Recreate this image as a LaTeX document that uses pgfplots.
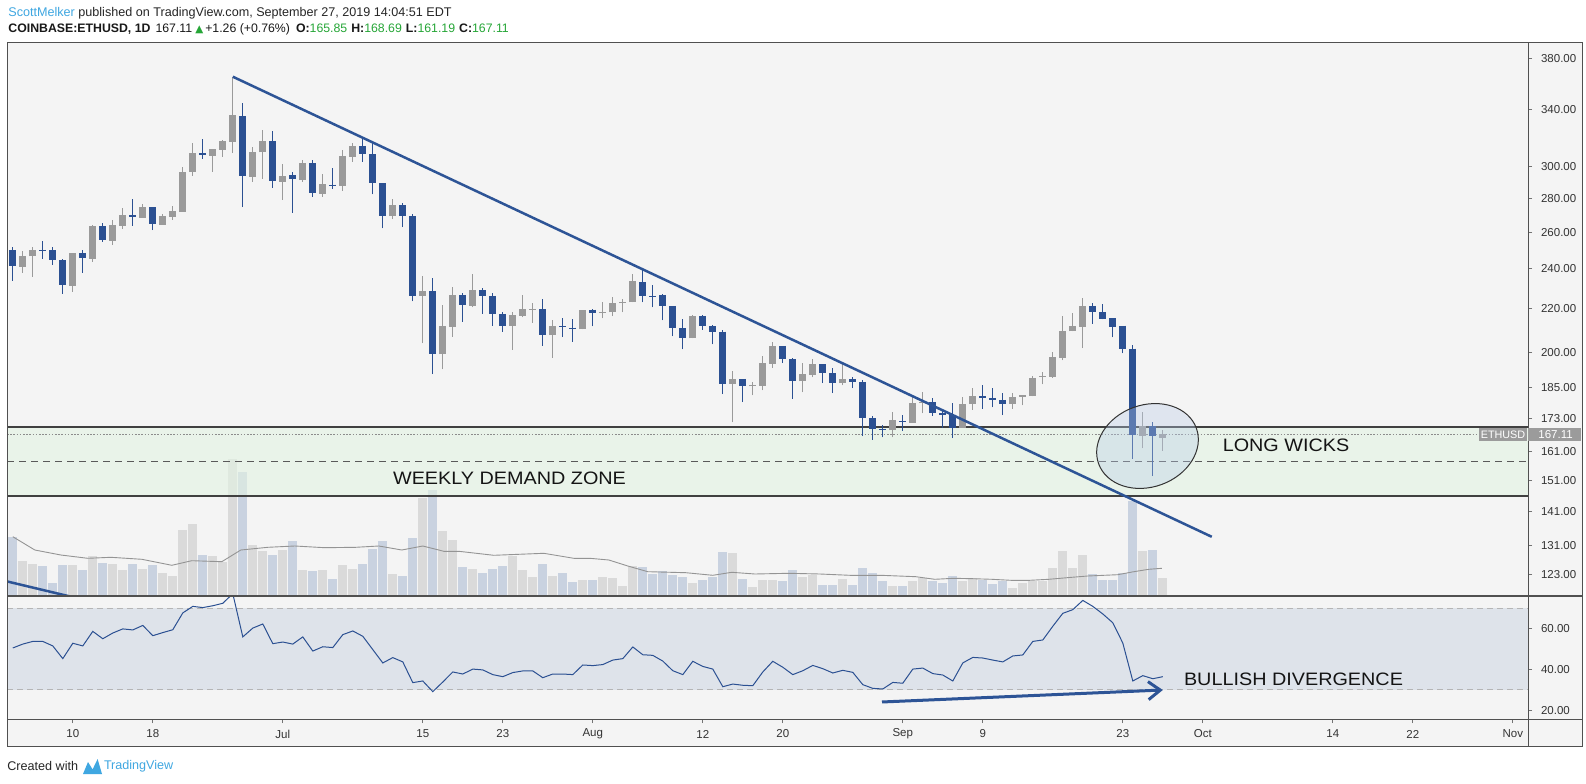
\documentclass[border=0pt]{standalone}
\usepackage{pgfplots}
\pgfplotsset{compat=1.18}
\usepackage{fontspec}
\setmainfont{Liberation Sans}
\newfontfamily\annfont[FakeStretch=1.1]{Liberation Sans}
\newfontfamily\symfont{DejaVu Sans}
\usetikzlibrary{arrows.meta}
\definecolor{bg}{HTML}{F4F4F4}
\definecolor{bear}{HTML}{2B5092}
\definecolor{bull}{HTML}{9A9A9A}
\definecolor{volbear}{HTML}{C9D2E0}
\definecolor{volbull}{HTML}{DADADA}
\definecolor{zone}{HTML}{E3F3E3}
\definecolor{rsiband}{HTML}{DEE3EA}
\definecolor{rsidash}{HTML}{B5B5B5}
\definecolor{trend}{HTML}{2D5496}
\definecolor{frame}{HTML}{505050}
\definecolor{tvgreen}{HTML}{26A637}
\definecolor{tvblue}{HTML}{3FA7E1}
\definecolor{lblgray}{HTML}{9B9B9B}
\definecolor{ellfill}{HTML}{B8CBE8}
\pgfplotsset{
  panel/.style={scale only axis, width=760.5pt, xmin=2.42, xmax=154.52,
    anchor=south west, axis line style={draw=none}, tick align=outside,
    major tick length=2pt, tick style={draw=black!55, line width=0.5pt},
    ticklabel style={font=\fontsize{5.75}{6.5}\selectfont, text=black!80}},
}
\begin{document}
\begin{tikzpicture}
\path[use as bounding box] (0,0) rectangle (793pt,391.5pt);
\fill[white] (0,0) rectangle (793pt,391.5pt);
\fill[bg] (3.5pt,18.5pt) rectangle (791pt,370.25pt);

% ---------- volume ----------
\begin{axis}[panel, at={(3.5pt,93.5pt)}, height=276.75pt, ymin=0, ymax=553.5, hide axis]
\addplot[ycomb, draw=volbull, line width=4.4pt] coordinates {
(4,35.3)(5,32.3)(9,31)(11,40)(13,32)(14,26)(16,27)(18,23.3)(19,20.3)(20,66)(21,72)(23,40)(24,34.3)(25,137)(27,51)(28,45.3)(30,46.3)(32,26)(34,26)(36,31)(37,27)(41,22)(44,98.3)(46,65.3)(47,56.3)(49,27)(53,40)(54,26)(55,19.3)(57,20.3)(60,16)(62,19)(63,18)(64,10)(65,30)(71,13)(75,43)(77,9)(78,16)(79,16)(82,19)(83,21)(86,17)(91,10)(93,15)(94,18)(98,15)(99,18)(103,8)(104,13)(105,15)(106,15)(107,28)(108,45)(109,28)(110,41)(116,45)(118,18)};
\addplot[ycomb, draw=volbear, line width=4.4pt] coordinates {
(3,59.3)(6,30)(7,13.3)(8,31)(10,26)(12,33)(15,32)(17,31)(22,41)(26,124)(29,41)(31,55)(33,25)(35,17)(38,32)(39,47.3)(40,55)(42,20)(43,58)(45,106)(48,29.3)(50,23.3)(51,27)(52,30)(56,32)(58,23.3)(59,14.3)(61,16)(66,29)(67,22)(68,25)(69,21)(70,19)(72,16)(73,19)(74,44)(76,17)(80,15)(81,26)(84,11)(85,11)(87,11)(88,28)(89,23)(90,15)(92,10)(95,15)(96,13)(97,20)(100,16)(101,12)(102,15)(111,22)(112,16)(113,16)(114,23)(115,95)(117,46)};
\addplot[draw=black!42, line width=0.45pt] coordinates {
(3,59.3)(5.2,46)(7.8,41)(10.5,37.7)(12.8,38.7)(15.9,36.7)(18.9,30.7)(20.9,35.3)(23.9,34.3)(25.8,46)(28.5,48.7)(31.2,50)(34.2,48.3)(37.3,48.7)(39.6,50)(41.9,46)(44,50)(46.1,44.7)(47.6,44.7)(51.1,40.7)(56.1,42.7)(59.1,37.7)(60.7,37.7)(62.6,36)(64.5,30)(66.5,24.3)(70.3,23.3)(73,20.7)(74.9,23.7)(77.2,22)(80.6,22.7)(83.7,22)(86.7,20.7)(89.8,20.7)(93.3,19.3)(95.2,16.7)(97.1,17.7)(99,17.3)(100.9,16.7)(102.8,15.7)(104.7,15.7)(106.6,16.7)(108.9,18.7)(110.5,20)(113.5,21.3)(115.1,24.3)(116.6,26.7)(117.9,27.7)};
\end{axis}

% ---------- price ----------
\begin{axis}[panel, at={(3.5pt,93.5pt)}, height=276.75pt, ymode=log, ymin=117.3, ymax=393.7,
  xtick=\empty, ytick pos=right, yticklabel pos=right,
  ytick={123,131,141,151,161,173,185,200,220,240,260,280,300,340,380},
  yticklabels={123.00,131.00,141.00,151.00,161.00,173.00,185.00,200.00,220.00,240.00,260.00,280.00,300.00,340.00,380.00},
  yticklabel style={anchor=west, xshift=1pt}, unbounded coords=jump]
\fill[zone, fill opacity=0.6] (axis cs:2.42,146.0) rectangle (axis cs:154.52,169.8);
\draw[black!75, line width=0.7pt] (axis cs:2.42,169.8) -- (axis cs:154.52,169.8);
\draw[black!75, line width=0.7pt] (axis cs:2.42,146.0) -- (axis cs:154.52,146.0);
\draw[black!65, line width=0.7pt, dash pattern=on 3.5pt off 2.5pt] (axis cs:2.42,157.4) -- (axis cs:154.52,157.4);
\draw[black!45, line width=0.35pt, dash pattern=on 0.8pt off 0.8pt] (axis cs:2.42,167.11) -- (axis cs:149.6,167.11);
% bear wicks
\addplot[draw=bear, line width=0.6pt] coordinates {
(3,233.8)(3,251.7)(3,nan)(6,245.4)(6,255.1)(6,nan)(7,242.0)(7,251.8)(7,nan)(8,227.3)(8,245.2)(8,nan)(10,238.0)(10,250.1)(10,nan)(12,254.6)(12,265.2)(12,nan)(15,263.7)(15,279.6)(15,nan)(17,261.1)(17,274.6)(17,nan)(22,305.4)(22,318.8)(22,nan)(26,274.6)(26,344.9)(26,nan)(29,286.6)(29,324.4)(29,nan)(31,271.3)(31,296.6)(31,nan)(33,281.0)(33,304.5)(33,nan)(35,286.0)(35,299.0)(35,nan)(38,303.4)(38,318.4)(38,nan)(39,282.4)(39,315.7)(39,nan)(40,262.1)(40,289.3)(40,nan)(42,262.9)(42,277.0)(42,nan)(43,223.4)(43,270.4)(43,nan)(45,190.6)(45,235.2)(45,nan)(48,213.8)(48,227.5)(48,nan)(50,217.5)(50,230.3)(50,nan)(51,211.9)(51,227.5)(51,nan)(52,209.0)(52,218.5)(52,nan)(56,202.8)(56,224.5)(56,nan)(58,206.6)(58,215.3)(58,nan)(59,204.6)(59,214.9)(59,nan)(61,211.5)(61,219.9)(61,nan)(66,223.0)(66,239.8)(66,nan)(67,220.5)(67,231.6)(67,nan)(68,214.4)(68,227.1)(68,nan)(69,207.0)(69,221.2)(69,nan)(70,201.2)(70,215.0)(70,nan)(72,210.0)(72,217.0)(72,nan)(73,203.4)(73,212.0)(73,nan)(74,182.4)(74,209.7)(74,nan)(76,179.3)(76,188.6)(76,nan)(80,195.2)(80,202.7)(80,nan)(81,180.6)(81,197.3)(81,nan)(84,186.9)(84,194.8)(84,nan)(85,182.8)(85,193.0)(85,nan)(87,184.8)(87,189.2)(87,nan)(88,166.4)(88,188.2)(88,nan)(89,165.1)(89,174.0)(89,nan)(90,166.0)(90,170.6)(90,nan)(92,168.4)(92,174.3)(92,nan)(95,173.9)(95,180.7)(95,nan)(96,169.4)(96,176.3)(96,nan)(97,165.7)(97,178.9)(97,nan)(100,176.7)(100,186.3)(100,nan)(101,177.2)(101,184.9)(101,nan)(102,174.2)(102,182.8)(102,nan)(111,212.7)(111,222.6)(111,nan)(112,214.8)(112,222.1)(112,nan)(113,206.5)(113,215.4)(113,nan)(114,199.4)(114,211.9)(114,nan)(115,158.3)(115,203.3)(115,nan)(117,152.5)(117,171.6)};
% bull wicks
\addplot[draw=bull, line width=0.6pt] coordinates {
(4,238.0)(4,249.6)(4,nan)(5,235.9)(5,251.8)(5,nan)(9,228.3)(9,248.5)(9,nan)(11,243.8)(11,264.1)(11,nan)(13,253.0)(13,267.0)(13,nan)(14,262.0)(14,274.2)(14,nan)(16,268.4)(16,276.6)(16,nan)(18,264.3)(18,270.5)(18,nan)(19,267.2)(19,275.4)(19,nan)(20,271.9)(20,299.8)(20,nan)(21,294.0)(21,316.0)(21,nan)(23,296.8)(23,311.9)(23,nan)(24,306.7)(24,318.1)(24,nan)(25,309.0)(25,365.3)(25,nan)(27,290.4)(27,313.3)(27,nan)(28,292.3)(28,325.1)(28,nan)(30,279.2)(30,301.8)(30,nan)(32,290.4)(32,304.5)(32,nan)(34,281.0)(34,295.3)(34,nan)(36,284.7)(36,311.2)(36,nan)(37,303.4)(37,315.7)(37,nan)(41,267.5)(41,279.4)(41,nan)(44,203.8)(44,236.4)(44,nan)(46,192.6)(46,221.5)(46,nan)(47,206.9)(47,230.8)(47,nan)(49,220.5)(49,237.3)(49,nan)(53,200.9)(53,218.5)(53,nan)(54,215.8)(54,226.6)(54,nan)(55,213.3)(55,222.7)(55,nan)(57,197.6)(57,214.4)(57,nan)(60,210.2)(60,219.3)(60,nan)(62,215.3)(62,223.3)(62,nan)(63,216.3)(63,225.4)(63,nan)(64,218.1)(64,224.8)(64,nan)(65,223.0)(65,237.4)(65,nan)(71,206.1)(71,217.0)(71,nan)(75,171.5)(75,191.9)(75,nan)(77,181.9)(77,187.4)(77,nan)(78,183.9)(78,198.3)(78,nan)(79,193.3)(79,204.6)(79,nan)(82,183.1)(82,195.3)(82,nan)(83,189.2)(83,197.2)(83,nan)(86,186.0)(86,194.7)(86,nan)(91,166.0)(91,175.5)(91,nan)(93,171.3)(93,181.5)(93,nan)(94,174.9)(94,183.4)(94,nan)(98,169.5)(98,181.4)(98,nan)(99,176.3)(99,184.9)(99,nan)(103,176.7)(103,182.8)(103,nan)(104,178.0)(104,181.9)(104,nan)(105,181.5)(105,189.7)(105,nan)(106,186.4)(106,191.5)(106,nan)(107,189.0)(107,200.1)(107,nan)(108,196.4)(108,216.4)(108,nan)(109,209.2)(109,218.0)(109,nan)(110,201.7)(110,225.0)(110,nan)(116,162.0)(116,175.6)(116,nan)(118,161.19)(118,168.69)};
% bear bodies
\addplot[draw=bear, line width=3.4pt] coordinates {
(3,249.9)(3,241.2)(3,nan)(6,250.1)(6,249.6)(6,nan)(7,249.9)(7,244.5)(7,nan)(8,244.5)(8,231.5)(8,nan)(10,248.5)(10,245.6)(10,nan)(12,263.3)(12,255.8)(12,nan)(15,269.7)(15,268.5)(15,nan)(17,274.6)(17,264.5)(17,nan)(22,309.0)(22,307.6)(22,nan)(26,335.0)(26,293.8)(26,nan)(29,317.1)(29,290.6)(29,nan)(31,294.5)(31,291.9)(31,nan)(33,302.3)(33,283.0)(33,nan)(35,288.5)(35,287.7)(35,nan)(38,314.0)(38,308.3)(38,nan)(39,308.3)(39,289.3)(39,nan)(40,289.3)(40,269.2)(40,nan)(42,275.7)(42,269.2)(42,nan)(43,269.2)(43,226.1)(43,nan)(45,228.4)(45,199.0)(45,nan)(48,226.6)(48,221.6)(48,nan)(50,228.9)(50,225.9)(50,nan)(51,226.1)(51,217.2)(51,nan)(52,217.4)(52,211.9)(52,nan)(56,219.6)(56,207.5)(56,nan)(58,211.6)(58,211.1)(58,nan)(59,211.0)(59,210.2)(59,nan)(61,219.4)(61,217.8)(61,nan)(66,233.0)(66,226.0)(66,nan)(67,226.2)(67,225.7)(67,nan)(68,226.6)(68,221.2)(68,nan)(69,221.2)(69,210.8)(69,nan)(70,210.8)(70,206.2)(70,nan)(72,216.5)(72,211.7)(72,nan)(73,211.7)(73,209.1)(73,nan)(74,209.1)(74,186.5)(74,nan)(76,188.6)(76,185.7)(76,nan)(80,202.7)(80,196.9)(80,nan)(81,197.0)(81,187.6)(81,nan)(84,194.8)(84,191.0)(84,nan)(85,191.0)(85,186.9)(85,nan)(87,188.5)(87,187.3)(87,nan)(88,187.3)(88,173.0)(88,nan)(89,173.0)(89,169.0)(89,nan)(90,169.1)(90,168.5)(90,nan)(92,172.0)(92,171.6)(92,nan)(95,179.3)(95,175.1)(95,nan)(96,175.1)(96,174.4)(96,nan)(97,174.4)(97,169.5)(97,nan)(100,181.6)(100,180.9)(100,nan)(101,180.9)(101,180.1)(101,nan)(102,180.1)(102,178.5)(102,nan)(111,221.3)(111,218.1)(111,nan)(112,218.3)(112,214.8)(112,nan)(113,215.4)(113,211.4)(113,nan)(114,211.9)(114,201.4)(114,nan)(115,201.5)(115,166.7)(115,nan)(117,170.0)(117,166.3)};
% bull bodies
\addplot[draw=bull, line width=3.4pt] coordinates {
(4,241.1)(4,246.9)(4,nan)(5,246.5)(5,250.1)(5,nan)(9,231.3)(9,248.5)(9,nan)(11,245.4)(11,263.5)(11,nan)(13,255.2)(13,264.1)(13,nan)(14,263.7)(14,269.9)(14,nan)(16,268.4)(16,274.8)(16,nan)(18,264.3)(18,269.3)(18,nan)(19,268.9)(19,272.3)(19,nan)(20,271.9)(20,296.6)(20,nan)(21,296.8)(21,309.2)(21,nan)(23,307.4)(23,311.9)(23,nan)(24,311.5)(24,317.6)(24,nan)(25,316.9)(25,336.0)(25,nan)(27,293.6)(27,309.9)(27,nan)(28,309.5)(28,317.4)(28,nan)(30,290.4)(30,294.0)(30,nan)(32,291.4)(32,302.3)(32,nan)(34,282.8)(34,288.9)(34,nan)(36,287.9)(36,307.2)(36,nan)(37,306.7)(37,314.0)(37,nan)(41,269.2)(41,275.9)(41,nan)(44,226.3)(44,228.4)(44,nan)(46,199.0)(46,211.7)(46,nan)(47,211.4)(47,226.6)(47,nan)(49,221.4)(49,229.1)(49,nan)(53,211.9)(53,216.9)(53,nan)(54,216.6)(54,219.8)(54,nan)(55,219.3)(55,219.8)(55,nan)(57,207.5)(57,211.6)(57,nan)(60,210.2)(60,219.3)(60,nan)(62,217.8)(62,218.4)(62,nan)(63,218.1)(63,222.8)(63,nan)(64,222.6)(64,223.3)(64,nan)(65,223.0)(65,233.7)(65,nan)(71,206.1)(71,216.5)(71,nan)(75,186.5)(75,188.6)(75,nan)(77,185.5)(77,185.9)(77,nan)(78,185.7)(78,195.3)(78,nan)(79,195.0)(79,202.7)(79,nan)(82,187.6)(82,190.7)(82,nan)(83,190.4)(83,194.8)(83,nan)(86,186.8)(86,188.6)(86,nan)(91,168.5)(91,172.5)(91,nan)(93,171.4)(93,178.9)(93,nan)(94,178.9)(94,179.3)(94,nan)(98,169.5)(98,178.5)(98,nan)(99,178.5)(99,181.7)(99,nan)(103,178.5)(103,181.4)(103,nan)(104,181.4)(104,181.9)(104,nan)(105,181.8)(105,189.0)(105,nan)(106,189.4)(106,190.0)(106,nan)(107,189.4)(107,197.8)(107,nan)(108,197.5)(108,209.5)(108,nan)(109,209.2)(109,211.6)(109,nan)(110,211.3)(110,221.3)(110,nan)(116,166.6)(116,170.0)(116,nan)(118,165.85)(118,167.11)};
% trend lines
\draw[trend, line width=1.25pt] (axis cs:25,365.3) -- (axis cs:122.9,133.5);
\draw[trend, line width=1.25pt] (axis cs:2.42,121.1) -- (axis cs:9.5,116.7);
\end{axis}

% ---------- RSI ----------
\begin{axis}[panel, at={(3.5pt,32pt)}, height=61.5pt, ymin=15.85, ymax=75.85,
  xtick pos=left, xticklabel pos=left, ytick pos=right, yticklabel pos=right,
  xtick={9,17,30,44,52,61,72,80,92,100,114,122,135,143,153},
  xticklabels={10,18,Jul,15,23,Aug,12,20,Sep,9,23,Oct,14,22,Nov},
  ytick={20,40,60}, yticklabels={20.00,40.00,60.00},
  yticklabel style={anchor=west, xshift=1pt},
  xticklabel style={anchor=center, yshift=-5.5pt}]
\fill[rsiband] (axis cs:2.42,30) rectangle (axis cs:154.52,70);
\draw[rsidash, line width=0.5pt, dash pattern=on 3pt off 2pt] (axis cs:2.42,70) -- (axis cs:154.52,70);
\draw[rsidash, line width=0.5pt, dash pattern=on 3pt off 2pt] (axis cs:2.42,30) -- (axis cs:154.52,30);
\addplot[draw=bear, line width=0.5pt] coordinates {
(3,50.5)(4,52.4)(5,53.7)(6,53.7)(7,51.5)(8,45.3)(9,52.8)(10,51.5)(11,58.6)(12,55.0)(13,57.8)(14,59.8)(15,59.3)(16,61.5)(17,56.5)(18,58.0)(19,59.4)(20,67.6)(21,70.8)(22,70.2)(23,71.1)(24,72.3)(25,77.0)(26,55.9)(27,60.2)(28,62.2)(29,52.6)(30,53.4)(31,52.4)(32,55.9)(33,49.0)(34,51.1)(35,50.7)(36,57.0)(37,58.8)(38,56.2)(39,49.7)(40,43.2)(41,45.8)(42,43.7)(43,33.6)(44,34.4)(45,29.2)(46,33.9)(47,38.8)(48,37.8)(49,40.2)(50,39.8)(51,37.5)(52,36.5)(53,38.5)(54,39.3)(55,39.3)(56,36.0)(57,37.8)(58,37.8)(59,37.5)(60,42.2)(61,41.9)(62,42.4)(63,44.6)(64,45.3)(65,51.0)(66,47.2)(67,46.9)(68,44.1)(69,39.4)(70,37.5)(71,44.0)(72,41.5)(73,40.2)(74,31.6)(75,32.9)(76,32.3)(77,32.1)(78,38.8)(79,44.0)(80,41.1)(81,37.5)(82,39.4)(83,42.0)(84,40.4)(85,38.3)(86,39.6)(87,38.6)(88,32.6)(89,30.8)(90,30.5)(91,33.7)(92,33.3)(93,40.2)(94,40.7)(95,38.0)(96,37.3)(97,34.4)(98,43.2)(99,45.9)(100,45.6)(101,44.6)(102,43.7)(103,46.6)(104,47.1)(105,53.7)(106,54.4)(107,61.1)(108,67.4)(109,69.2)(110,73.7)(111,70.8)(112,67.1)(113,62.8)(114,52.9)(115,34.4)(116,37.0)(117,35.5)(118,36.5)};
\draw[trend, line width=1.5pt, -{Straight Barb[length=6pt,width=9pt,line width=1.5pt]}] (axis cs:89.92,24.15) -- (axis cs:118.0,30.0);
\end{axis}

% ---------- frame ----------
\draw[frame, line width=0.5pt] (3.5pt,18.5pt) rectangle (791pt,370.25pt);
\draw[frame, line width=0.6pt] (3.5pt,93.5pt) -- (791pt,93.5pt);
\draw[frame, line width=0.5pt] (3.5pt,32pt) -- (791pt,32pt);
\draw[frame, line width=0.5pt] (764pt,18.5pt) -- (764pt,370.25pt);

% ellipse
\draw[black!80, line width=0.5pt, fill=ellfill, fill opacity=0.35] (573.75pt,168.5pt) ellipse [x radius=26pt, y radius=20.5pt, rotate=20];

% price label
\fill[lblgray] (739.5pt,171pt) rectangle (763.5pt,177.5pt);
\node[text=white, font=\fontsize{5.4}{6}\selectfont, inner sep=0] at (751.5pt,174.25pt) {ETHUSD};
\fill[lblgray] (764pt,171pt) rectangle (790.5pt,177.5pt);
\node[text=white, font=\fontsize{5.75}{6}\selectfont, anchor=west, inner sep=0] at (769pt,174.25pt) {167.11};

% annotations
\node[font=\annfont\fontsize{9}{10}\selectfont, text=black!92, inner sep=0] at (254.75pt,152.5pt) {WEEKLY DEMAND ZONE};
\node[font=\annfont\fontsize{9}{10}\selectfont, text=black!92, inner sep=0] at (643pt,169pt) {LONG WICKS};
\node[font=\annfont\fontsize{9}{10}\selectfont, text=black!92, inner sep=0] at (646.75pt,52pt) {BULLISH DIVERGENCE};

% header
\node[anchor=west, inner sep=0, font=\fontsize{6.3}{7}\selectfont, text=black!85] at (4pt,384.85pt) {\textcolor{tvblue}{ScottMelker} published on TradingView.com, September 27, 2019 14:04:51 EDT};
\node[anchor=west, inner sep=0, font=\fontsize{6.15}{7}\selectfont, text=black!90] at (4pt,376.85pt) {\textbf{COINBASE:ETHUSD, 1D}\hspace{2.5pt}167.11\hspace{1.5pt}{\symfont\fontsize{5.2}{6}\selectfont\textcolor{tvgreen}{▲}}\hspace{1pt}+1.26 (+0.76\%)\hspace{3pt}\textbf{O:}\textcolor{tvgreen}{165.85}\hspace{2pt}\textbf{H:}\textcolor{tvgreen}{168.69}\hspace{2pt}\textbf{L:}\textcolor{tvgreen}{161.19}\hspace{2pt}\textbf{C:}\textcolor{tvgreen}{167.11}};

% footer
\node[anchor=west, inner sep=0, font=\fontsize{6.3}{7}\selectfont, text=black!85] at (3.5pt,8.5pt) {Created with};
\fill[tvblue] (41.5pt,4.5pt) -- (44pt,10.5pt) -- (46.3pt,6.8pt) -- (48.8pt,12pt) -- (51pt,4.5pt) -- cycle;
\node[anchor=west, inner sep=0, font=\fontsize{6.3}{7}\selectfont, text=tvblue] at (51.8pt,8.5pt) {TradingView};
\end{tikzpicture}
\end{document}
